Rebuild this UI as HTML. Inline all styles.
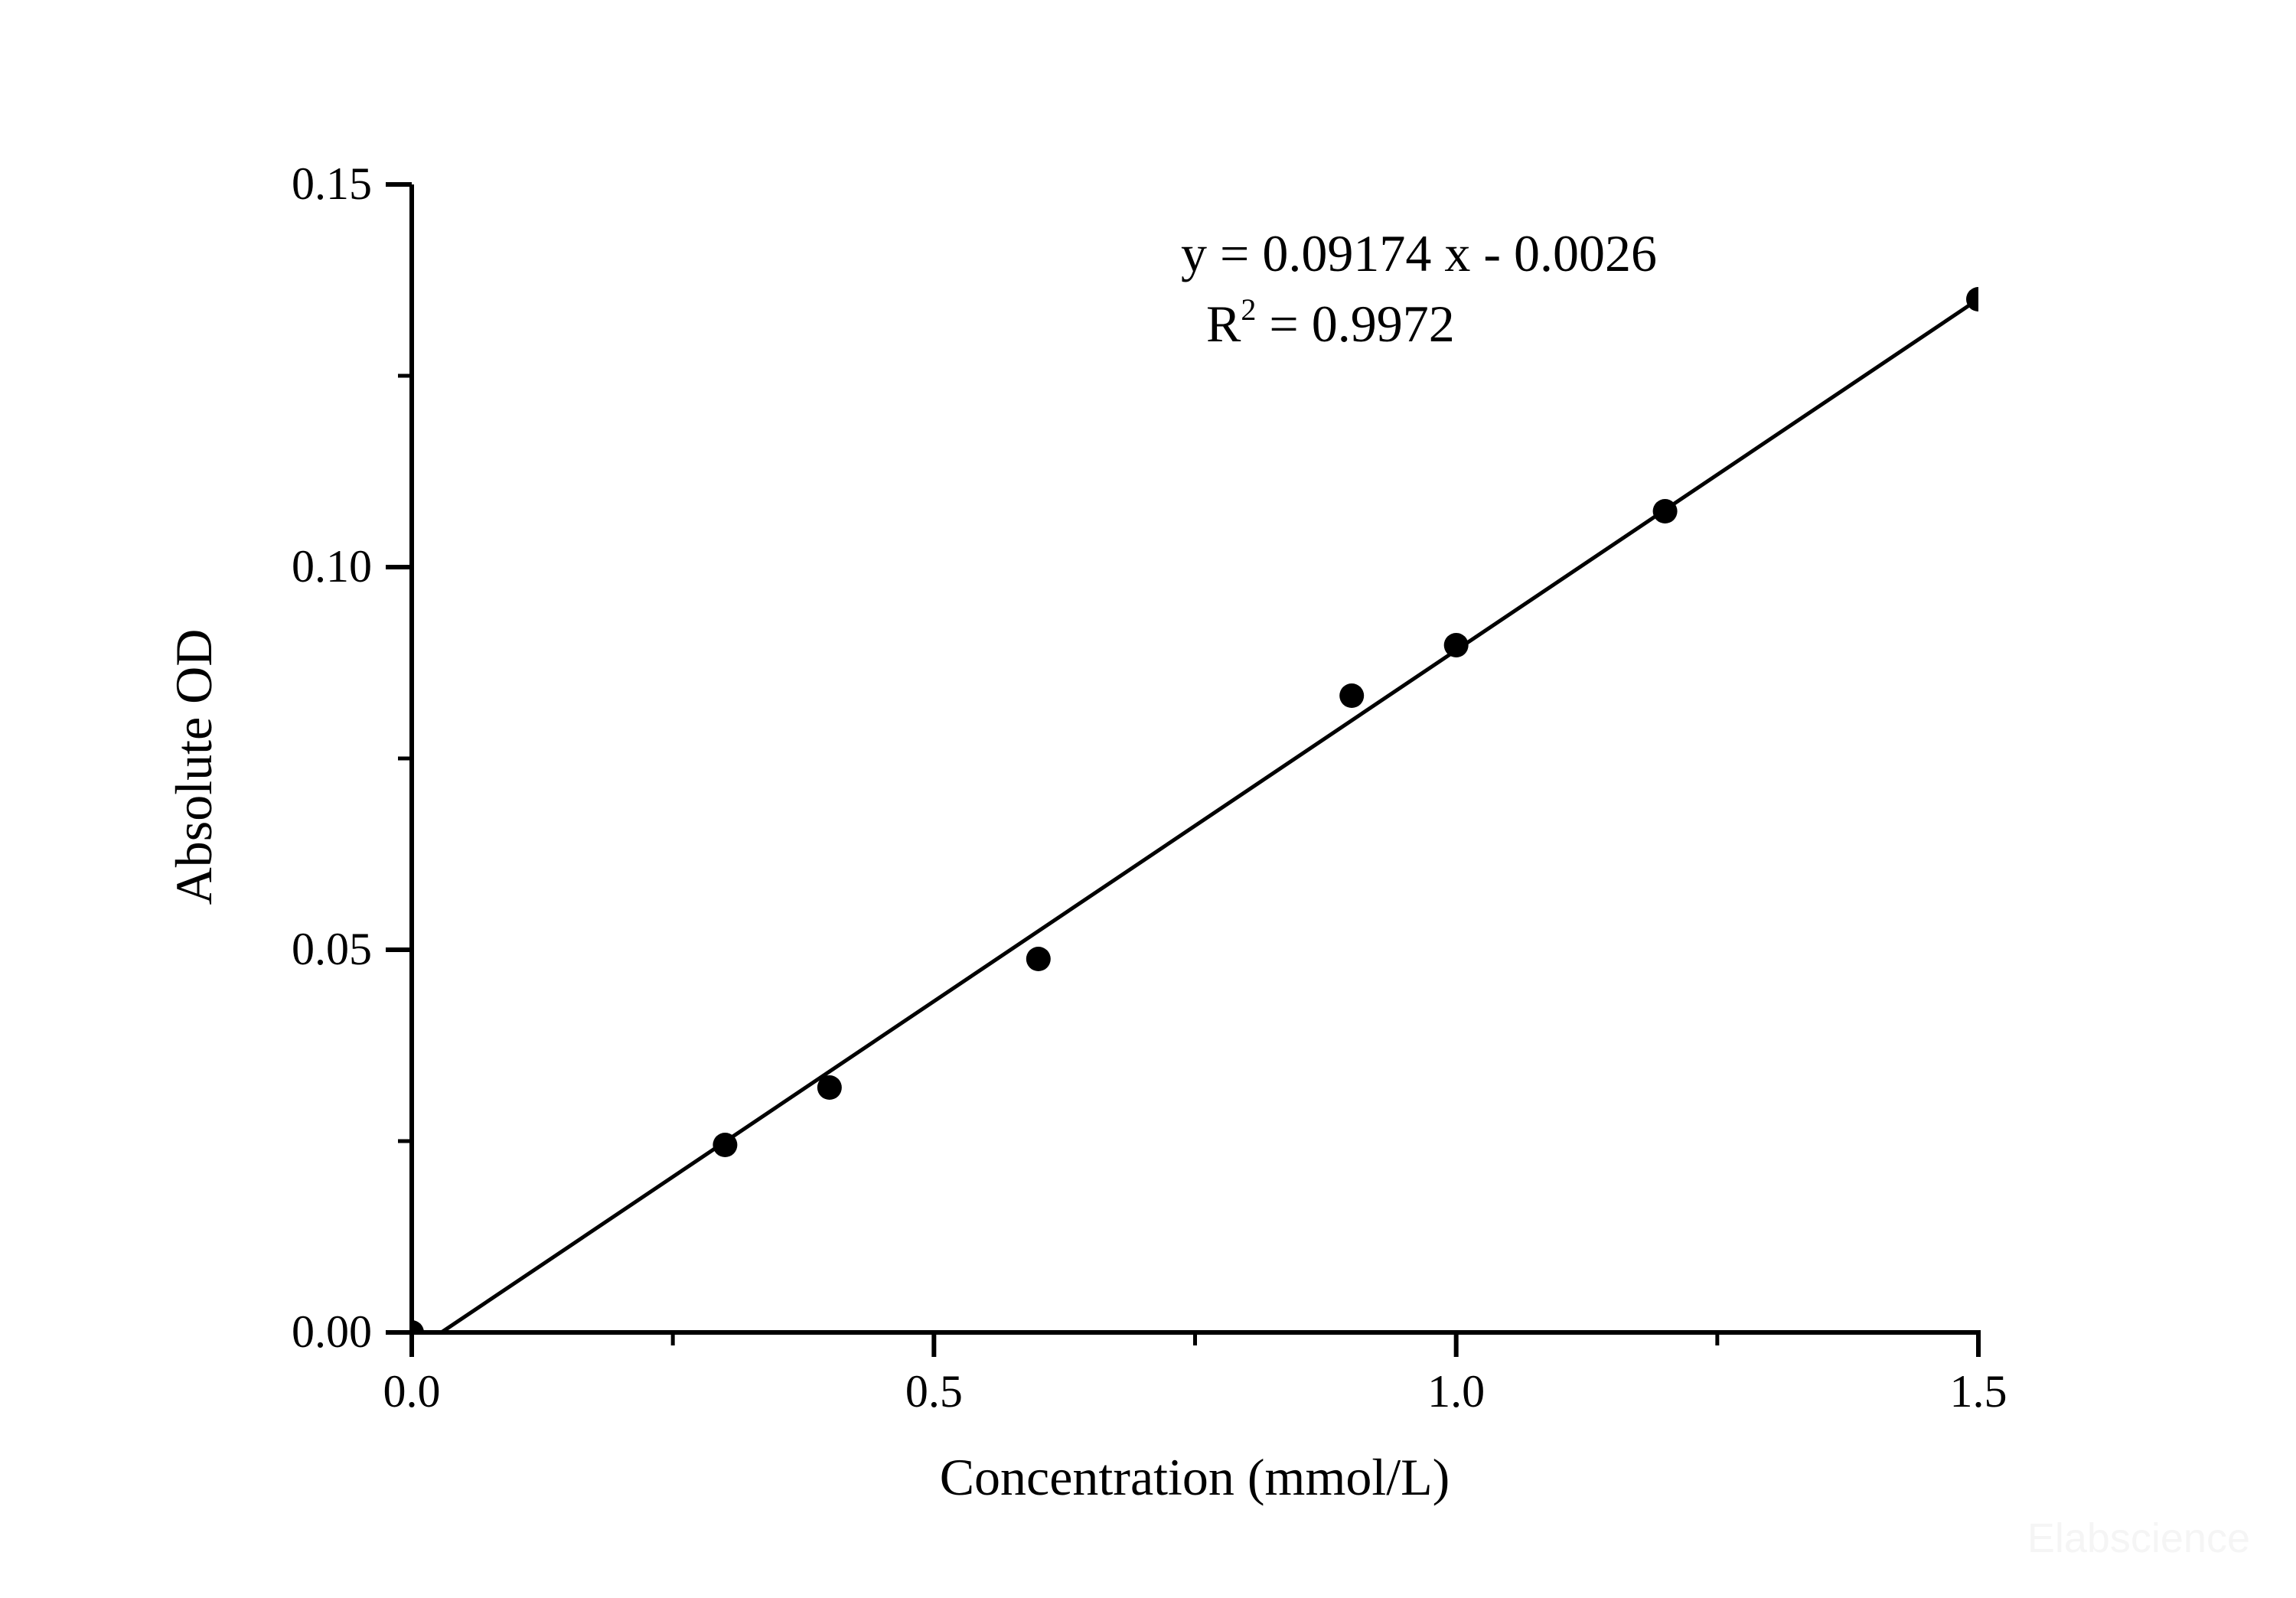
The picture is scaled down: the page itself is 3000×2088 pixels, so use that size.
<!DOCTYPE html>
<html><head><meta charset="utf-8"><style>
html,body{margin:0;padding:0;background:#fff;}
svg{display:block;font-family:"Liberation Serif",serif;}
</style></head><body>
<svg id="chart" width="3000" height="2088" viewBox="0 0 3000 2088" xmlns="http://www.w3.org/2000/svg">
<defs><clipPath id="plotclip"><rect x="538" y="230" width="2047" height="1511"/></clipPath></defs>
<g id="axes"></g>
<g id="marks" clip-path="url(#plotclip)"></g>
<text x="1543" y="354" font-size="68">y = 0.09174 x - 0.0026</text>
<text x="1576" y="446" font-size="68">R<tspan dy="-28" font-size="40">2</tspan><tspan dy="28"> = 0.9972</tspan></text>
<text x="1561" y="1953" font-size="68" text-anchor="middle">Concentration (mmol/L)</text>
<text transform="translate(276,1002) rotate(-90)" font-size="68" text-anchor="middle">Absolute OD</text>
<text x="2940" y="2028" font-size="54" font-family="Liberation Sans, sans-serif" text-anchor="end" fill="#f5f5f5">Elabscience</text>
</svg>
<script>
const xData=[0,0.3,0.4,0.6,0.9,1.0,1.2,1.5];
const yData=[0,0.0245,0.032,0.0488,0.0832,0.0898,0.1073,0.135];
const xTicks=[0,0.5,1.0,1.5];
const xTickLabels=["0.0","0.5","1.0","1.5"];
const yTicks=[0,0.05,0.10,0.15];
const yTickLabels=["0.00","0.05","0.10","0.15"];
const slope=0.09174, intercept=-0.0026;
const X0=538,X1=2585,Y0=1741,Y1=241;
function sx(v){return X0+(v-0)/(1.5-0)*(X1-X0);}
function sy(v){return Y0-(v-0)/(0.15-0)*(Y0-Y1);}
const NS="http://www.w3.org/2000/svg";
const axes=document.getElementById('axes'),marks=document.getElementById('marks');
function mk(tag,attrs,parent){const e=document.createElementNS(NS,tag);for(const k in attrs)e.setAttribute(k,attrs[k]);parent.appendChild(e);return e;}
let e;
e=mk('line',{x1:X0,y1:Y1,x2:X0,y2:Y0,stroke:'#000','stroke-width':6},axes);


e=mk('line',{x1:X0-3,y1:Y0,x2:X1+3,y2:Y0,stroke:'#000','stroke-width':6},axes);


yTicks.forEach((t,i)=>{
 const y=sy(t);
 e=mk('line',{x1:X0-34,y1:y,x2:X0,y2:y,stroke:'#000','stroke-width':6},axes);
 
 
 e=mk('text',{x:486,y:y+19,'font-size':60,'text-anchor':'end'},axes);
 e.textContent=yTickLabels[i];
 
 
 if(i<yTicks.length-1){
  const ym=sy(t+0.025);
  e=mk('line',{x1:X0-18,y1:ym,x2:X0,y2:ym,stroke:'#000','stroke-width':5},axes);
  
  
 }
});
xTicks.forEach((t,i)=>{
 const x=sx(t);
 e=mk('line',{x1:x,y1:Y0,x2:x,y2:Y0+32,stroke:'#000','stroke-width':6},axes);
 
 
 e=mk('text',{x:x,y:1838,'font-size':60,'text-anchor':'middle'},axes);
 e.textContent=xTickLabels[i];
 
 
 if(i<xTicks.length-1){
  const xm=sx(t+0.25);
  e=mk('line',{x1:xm,y1:Y0,x2:xm,y2:Y0+17,stroke:'#000','stroke-width':5},axes);
  
  
 }
});
const xs=-intercept/slope, xe=1.5;
e=mk('line',{x1:sx(xs),y1:sy(slope*xs+intercept),x2:sx(xe),y2:sy(slope*xe+intercept),stroke:'#000','stroke-width':5},marks);


xData.forEach((v,i)=>{
 e=mk('circle',{cx:sx(v),cy:sy(yData[i]),r:16,fill:'#000'},marks);
 
 
});
</script>
</body></html>
